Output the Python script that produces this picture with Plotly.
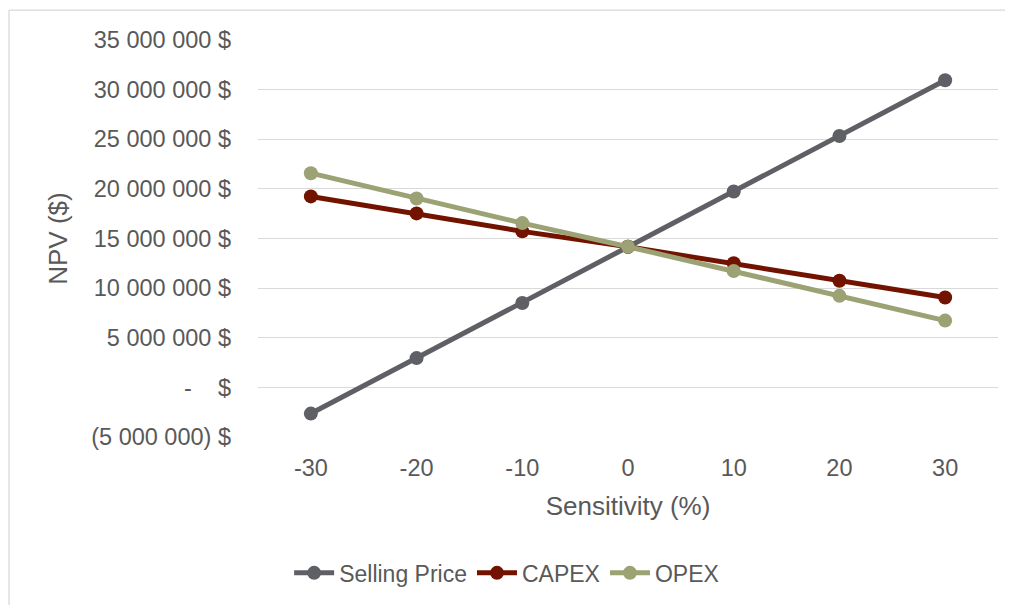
import plotly.graph_objects as go

sensitivity = [-30, -20, -10, 0, 10, 20, 30]
selling_price = [-2.64e6, 2.95e6, 8.5e6, 14.17e6, 19.74e6, 25.33e6, 30.95e6]
capex = [19.24e6, 17.53e6, 15.72e6, 14.17e6, 12.5e6, 10.75e6, 9.05e6]
opex = [21.58e6, 19.03e6, 16.55e6, 14.17e6, 11.73e6, 9.22e6, 6.73e6]

y_tickvals = [-5e6, 0, 5e6, 10e6, 15e6, 20e6, 25e6, 30e6, 35e6]
y_ticktext = ["(5 000 000) $", "-    $", "5 000 000 $", "10 000 000 $", "15 000 000 $",
              "20 000 000 $", "25 000 000 $", "30 000 000 $", "35 000 000 $"]

series = [
    ("Selling Price", selling_price, "#5f6065"),
    ("CAPEX", capex, "#721300"),
    ("OPEX", opex, "#9ca274"),
]

fig = go.Figure()
for name, vals, color in series:
    fig.add_trace(go.Scatter(
        x=sensitivity, y=vals, name=name, mode="lines+markers",
        line=dict(color=color, width=5),
        marker=dict(color=color, size=14),
    ))

font_color = "#595959"
border = dict(color="#d9d9d9", width=1.3)
fig.update_layout(
    width=1005, height=597,
    margin=dict(l=250, r=15, t=32, b=167),
    paper_bgcolor="white", plot_bgcolor="white",
    font=dict(family="Liberation Sans, Arial, sans-serif", size=23, color=font_color),
    showlegend=True,
    legend=dict(orientation="h", x=0.336, xanchor="center", y=-0.339, yanchor="middle",
                font=dict(size=23, color=font_color), itemwidth=40,
                bgcolor="rgba(0,0,0,0)"),
    xaxis=dict(range=[-35, 35], tickvals=sensitivity, ticktext=[str(v) for v in sensitivity],
               showgrid=False, zeroline=False, showline=False, ticks="",
               tickfont=dict(size=23.5),
               ticklabelstandoff=14,
               title=dict(text="Sensitivity (%)", font=dict(size=26, color=font_color), standoff=17)),
    yaxis=dict(range=[-5e6, 35e6], tickvals=y_tickvals, ticktext=y_ticktext,
               showgrid=True, gridcolor="#d9d9d9", gridwidth=1.3, zeroline=False,
               showline=False, ticks="", ticklabelstandoff=26,
               tickfont=dict(size=23.5),
               title=dict(text="NPV ($)", font=dict(size=26, color=font_color), standoff=16)),
    shapes=[
        dict(type="line", xref="paper", yref="paper", x0=-0.3365, x1=-0.3365,
             y0=-0.45, y1=1.0754, line=border, layer="below"),
        dict(type="line", xref="paper", yref="paper", x0=-0.3365, x1=1.1,
             y0=1.0754, y1=1.0754, line=border, layer="below"),
    ],
)

fig.write_html("out.html")
